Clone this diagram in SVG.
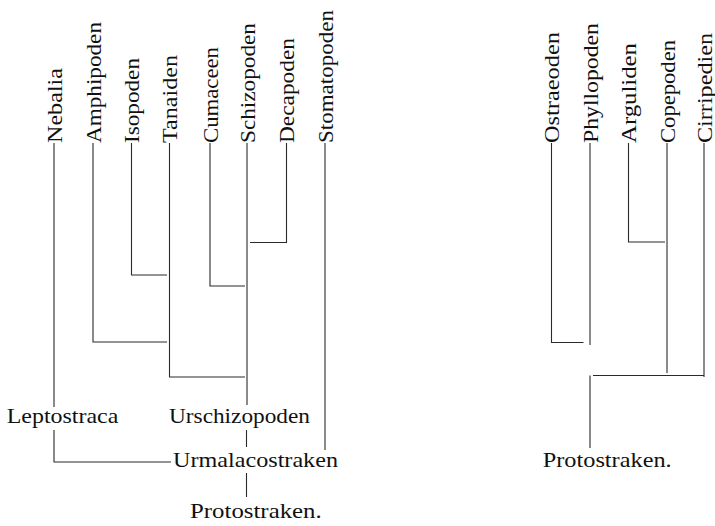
<svg xmlns="http://www.w3.org/2000/svg" width="715" height="526" viewBox="0 0 715 526">
<style>
text{font-family:"Liberation Serif","DejaVu Serif",serif;font-size:22px;fill:#111}
.c path{fill:none;stroke:#2a2a2a;stroke-width:1.1}
</style>
<rect width="715" height="526" fill="#fff"/>
<g class="c" id="connectors">
<path d="M54 143V407M54 430V462H171"/>
<path d="M93 143V342H167"/>
<path d="M131.5 143V275H167"/>
<path d="M169.5 143V377H245"/>
<path d="M210 143V286H245"/>
<path d="M247 143V405"/>
<path d="M286.5 143V242.5H250"/>
<path d="M325 143V450"/>
<path d="M246.5 430V447"/>
<path d="M246.5 473V497"/>
<path d="M551.5 143V342.5H583.5"/>
<path d="M590 143V345"/>
<path d="M628.5 143V242H665"/>
<path d="M667 143V373"/>
<path d="M704 143V377"/>
<path d="M590 375.5V448M593 375.5H704"/>
</g>
<g id="nebalia"><text transform="translate(61.5,143) rotate(-90)" textLength="75" lengthAdjust="spacingAndGlyphs">Nebalia</text></g>
<g id="amphipoden"><text transform="translate(100.5,143) rotate(-90)" textLength="121" lengthAdjust="spacingAndGlyphs">Amphipoden</text></g>
<g id="isopoden"><text transform="translate(139,143) rotate(-90)" textLength="85" lengthAdjust="spacingAndGlyphs">Isopoden</text></g>
<g id="tanaiden"><text transform="translate(177,143) rotate(-90)" textLength="88" lengthAdjust="spacingAndGlyphs">Tanaiden</text></g>
<g id="cumaceen"><text transform="translate(217.5,143) rotate(-90)" textLength="96" lengthAdjust="spacingAndGlyphs">Cumaceen</text></g>
<g id="schizopoden"><text transform="translate(254.5,143) rotate(-90)" textLength="120" lengthAdjust="spacingAndGlyphs">Schizopoden</text></g>
<g id="decapoden"><text transform="translate(294,143) rotate(-90)" textLength="105" lengthAdjust="spacingAndGlyphs">Decapoden</text></g>
<g id="stomatopoden"><text transform="translate(332.5,143) rotate(-90)" textLength="133" lengthAdjust="spacingAndGlyphs">Stomatopoden</text></g>
<g id="leptostraca"><text x="6.7" y="423.3" textLength="111.6" lengthAdjust="spacingAndGlyphs">Leptostraca</text></g>
<g id="urschizopoden"><text x="169" y="423.3" textLength="141" lengthAdjust="spacingAndGlyphs">Urschizopoden</text></g>
<g id="urmalacostraken"><text x="173" y="467.3" textLength="165" lengthAdjust="spacingAndGlyphs">Urmalacostraken</text></g>
<g id="protostraken-left"><text x="190" y="518.3" textLength="131.7" lengthAdjust="spacingAndGlyphs">Protostraken.</text></g>
<g id="ostraeoden"><text transform="translate(559,143) rotate(-90)" textLength="111" lengthAdjust="spacingAndGlyphs">Ostraeoden</text></g>
<g id="phyllopoden"><text transform="translate(597.5,143) rotate(-90)" textLength="120" lengthAdjust="spacingAndGlyphs">Phyllopoden</text></g>
<g id="arguliden"><text transform="translate(636,143) rotate(-90)" textLength="100" lengthAdjust="spacingAndGlyphs">Arguliden</text></g>
<g id="copepoden"><text transform="translate(674.5,143) rotate(-90)" textLength="103" lengthAdjust="spacingAndGlyphs">Copepoden</text></g>
<g id="cirripedien"><text transform="translate(711.5,143) rotate(-90)" textLength="110" lengthAdjust="spacingAndGlyphs">Cirripedien</text></g>
<g id="protostraken-right"><text x="542.7" y="466.7" textLength="129" lengthAdjust="spacingAndGlyphs">Protostraken.</text></g>
</svg>
